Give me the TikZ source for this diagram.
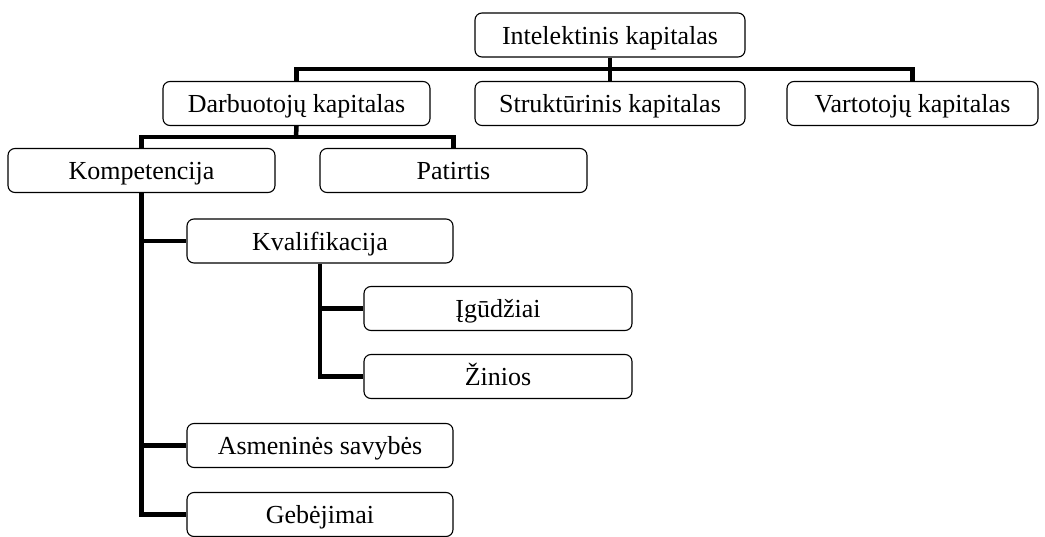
\documentclass[tikz,border=0pt]{standalone}
\usepackage{fontspec}
\setmainfont{Liberation Serif}
\begin{document}
\begin{tikzpicture}[x=1pt,y=-1pt,
  box/.style={draw=black,line width=1.1pt,rounded corners=7pt,fill=white,
    minimum height=44pt,inner sep=0pt,text height=20pt,text depth=2pt,
    font=\fontsize{26}{30}\selectfont},
  conn/.style={draw=black,line width=4.5pt,line cap=butt,line join=miter}]
\useasboundingbox (0,0) rectangle (1045,536);
\coordinate (j1) at (610,69);
\coordinate (j2) at (296,137);
\node[box,minimum width=270pt] (intel) at (610,35) {Intelektinis kapitalas};
\node[box,minimum width=267pt] (darb) at (296.5,103.5) {Darbuotojų kapitalas};
\node[box,minimum width=270pt] (strukt) at (610,103.5) {Struktūrinis kapitalas};
\node[box,minimum width=251pt] (vart) at (912.5,103.5) {Vartotojų kapitalas};
\node[box,minimum width=267pt] (komp) at (141.5,170.5) {Kompetencija};
\node[box,minimum width=267pt] (pat) at (453.5,170.5) {Patirtis};
\node[box,minimum width=266pt] (kval) at (320,241) {Kvalifikacija};
\node[box,minimum width=268pt] (igu) at (498,308.5) {Įgūdžiai};
\node[box,minimum width=268pt] (zin) at (498,376.5) {Žinios};
\node[box,minimum width=266pt] (asm) at (320,445.5) {Asmeninės savybės};
\node[box,minimum width=266pt] (geb) at (320,514.5) {Gebėjimai};
\draw[conn] (intel.south) -- (strukt.north);
\draw[conn] (darb.north) |- (j1) -| (vart.north);
\draw[conn] (darb.south) -- (j2);
\draw[conn] (komp.north) |- (j2) -| (pat.north);
\draw[conn] (komp.south) |- (geb.west);
\draw[conn] (komp.south |- kval.west) -- (kval.west);
\draw[conn] (komp.south |- asm.west) -- (asm.west);
\draw[conn] (kval.south) |- (zin.west);
\draw[conn] (kval.south |- igu.west) -- (igu.west);
\end{tikzpicture}
\end{document}
